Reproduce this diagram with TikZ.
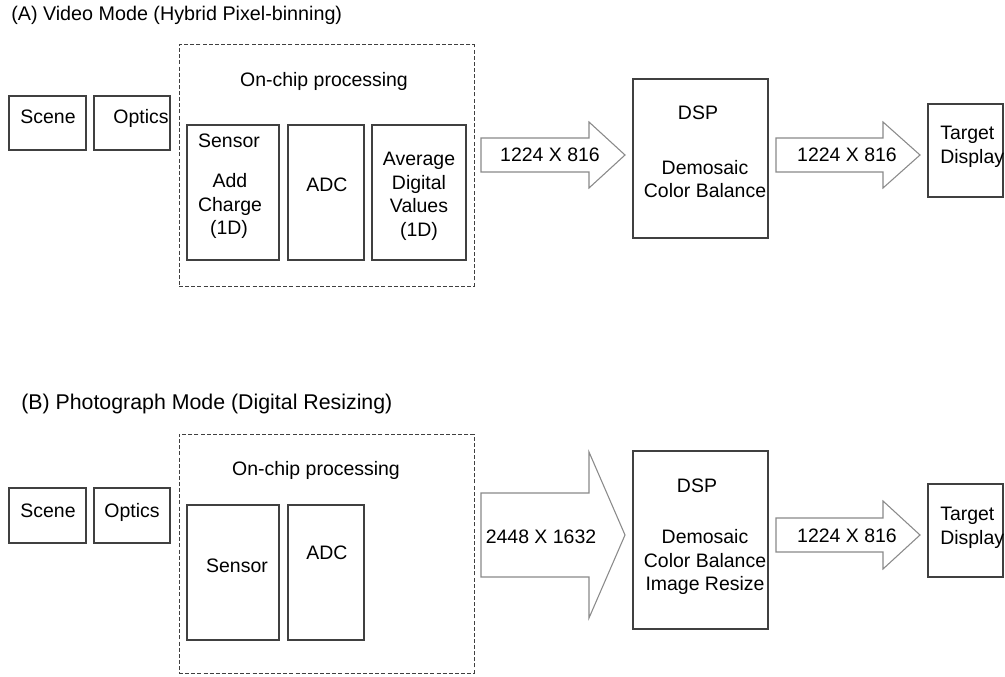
\documentclass[tikz,border=0pt]{standalone}
\usepackage{fontspec}
\setmainfont{Liberation Sans}
\usetikzlibrary{fit}
\definecolor{boxgray}{HTML}{404040}
\definecolor{arrowgray}{HTML}{8A8A8A}
\definecolor{dashgray}{HTML}{404040}
\begin{document}
\begin{tikzpicture}[x=0.75pt,y=-0.75pt,
  box/.style={draw=boxgray, line width=1pt, inner sep=0pt},
  dashbox/.style={draw=dashgray, dash pattern=on 3pt off 1.6pt, line width=0.75pt, inner sep=0pt},
  blockarrow/.style={draw=arrowgray, fill=white, line width=0.8pt, line join=miter},
  txt/.style={font=\fontsize{14.6}{17.6}\selectfont, inner sep=0pt, anchor=base},
  ltxt/.style={txt, anchor=base west},
  ttl/.style={font=\fontsize{14.8}{17.6}\selectfont, inner sep=0pt, anchor=base west},
  ttlb/.style={ttl, font=\fontsize{16}{18}\selectfont}]
\useasboundingbox[fill=white] (0,0) rectangle (1005,677);

% ---------------- (A) ----------------
\node[ttl] (titleA) at (11,21) {(A) Video Mode (Hybrid Pixel-binning)};
\node[dashbox, fit={(179,45) (474,286)}] (chipA) {};
\node[txt] (onchipA) at (324,87) {On-chip processing};
\node[box, fit={(9,96) (86,150)}] (sceneA) {};
\node[box, fit={(94,96) (170,150)}] (opticsA) {};
\node[txt] (sceneAt) at (48,124) {Scene};
\node[txt] (opticsAt) at (141,124) {Optics};
\node[box, fit={(187,125) (279,260)}] (sensorA) {};
\node[box, fit={(288,125) (364,260)}] (adcA) {};
\node[box, fit={(372,125) (466,260)}] (avgA) {};
\node[txt] (sensorAt) at (229,148) {Sensor};
\node[txt] (addAt) at (230,188) {Add};
\node[txt] (chargeAt) at (230,211) {Charge};
\node[txt] (onedAt) at (229,234) {(1D)};
\node[txt] (adcAt) at (327,192) {ADC};
\node[txt] (avgAt1) at (419,166) {Average};
\node[txt] (avgAt2) at (419,190) {Digital};
\node[txt] (avgAt3) at (419,213) {Values};
\node[txt] (avgAt4) at (419,236) {(1D)};
\draw[blockarrow] (481,138) -- (589,138) -- (589,122) -- (625,155) -- (589,188) -- (589,172) -- (481,172) -- cycle;
\node[txt] (arrA1) at (550,162) {1224 X 816};
\node[box, fit={(633,79) (768,238)}] (dspA) {};
\node[txt] (dspAt) at (698,120) {DSP};
\node[txt] (dspAt1) at (705,175) {Demosaic};
\node[txt] (dspAt2) at (705,198) {Color Balance};
\draw[blockarrow] (776,138) -- (883,138) -- (883,122) -- (920,155) -- (883,188) -- (883,172) -- (776,172) -- cycle;
\node[txt] (arrA2) at (847,162) {1224 X 816};
\node[box, fit={(928,104) (1003,197)}] (targetA) {};
\node[ltxt] (targetAt1) at (940,140) {Target};
\node[ltxt] (targetAt2) at (940,164) {Display};

% ---------------- (B) ----------------
\node[ttlb] (titleB) at (21,409) {(B) Photograph Mode (Digital Resizing)};
\node[dashbox, fit={(179,434) (474,673)}] (chipB) {};
\node[txt] (onchipB) at (316,475) {On-chip processing};
\node[box, fit={(9,488) (86,543)}] (sceneB) {};
\node[box, fit={(94,488) (170,543)}] (opticsB) {};
\node[txt] (sceneBt) at (48,517) {Scene};
\node[txt] (opticsBt) at (132,517) {Optics};
\node[box, fit={(187,505) (279,640)}] (sensorB) {};
\node[box, fit={(288,505) (364,640)}] (adcB) {};
\node[txt] (sensorBt) at (237,572) {Sensor};
\node[txt] (adcBt) at (327,559) {ADC};
\draw[blockarrow] (481,493) -- (589,493) -- (589,452) -- (625,535) -- (589,618) -- (589,577) -- (481,577) -- cycle;
\node[txt] (arrB1) at (541,543) {2448 X 1632};
\node[box, fit={(633,451) (768,629)}] (dspB) {};
\node[txt] (dspBt) at (697,492) {DSP};
\node[txt] (dspBt1) at (705,543) {Demosaic};
\node[txt] (dspBt2) at (705,567) {Color Balance};
\node[txt] (dspBt3) at (705,590) {Image Resize};
\draw[blockarrow] (776,518) -- (883,518) -- (883,501) -- (920,535) -- (883,569) -- (883,552) -- (776,552) -- cycle;
\node[txt] (arrB2) at (847,542) {1224 X 816};
\node[box, fit={(928,484) (1003,577)}] (targetB) {};
\node[ltxt] (targetBt1) at (940,520) {Target};
\node[ltxt] (targetBt2) at (940,544) {Display};
\end{tikzpicture}
\end{document}
